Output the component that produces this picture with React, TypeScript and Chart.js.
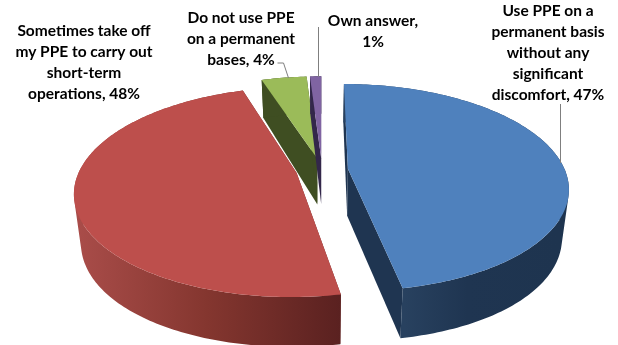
import React, { useEffect, useRef } from "react";
import { Chart, registerables } from "chart.js";

Chart.register(...registerables);

// Survey answers, in drawing order clockwise from twelve o'clock
const answers = [
  "Use PPE on a permanent basis without any significant discomfort",
  "Sometimes take off my PPE to carry out short-term operations",
  "Do not use PPE on a permanent bases",
  "Own answer",
];
const shares = [47, 48, 4, 1];
const faceColors = ["#4f81bd", "#bd4f4c", "#9bbb59", "#8064a2"];
const wallColors = ["#1f3551", "#6f2c2a", "#3f4e22", "#33274a"];

const labelLines = [
  ["Use PPE on a", "permanent basis", "without any", "significant", "discomfort, 47%"],
  ["Sometimes take off", "my PPE to carry out", "short-term", "operations, 48%"],
  ["Do not use PPE", "on a permanent", "bases, 4%"],
  ["Own answer,", "1%"],
];
const labelCenters = [548, 84, 241, 373];
const labelFirstLine = [11, 31, 18, 21];
const leaders = [
  [[560, 104], [560, 163]],
  [],
  [[277, 63], [283, 63], [288, 78]],
  [[318, 27], [318, 77]],
];

// Camera model for the tilted, exploded disc
const CX = 322;
const CY = 170;
const RX = 217;
const RY = 100.5;
const TILT = 0.18;
const EXPLODE = 0.12;
const BASE_SCALE = 0.972;

type Pt = { x: number; y: number };

const project = (u: number, v: number): Pt => {
  const w = 1 - TILT * v;
  return { x: CX + (RX * u) / w, y: CY + (RY * v) / w };
};

// The lower rim sits closer to the viewer, so the wall gets taller toward the front
const dropToBase = (p: Pt): Pt => {
  const d = p.y - CY;
  return {
    x: CX + (p.x - CX) * BASE_SCALE,
    y: p.y + 47 + 0.0677 * d - 0.000359 * d * d,
  };
};

const tracePath = (ctx: CanvasRenderingContext2D, pts: Pt[]) => {
  ctx.beginPath();
  pts.forEach((p, i) => (i ? ctx.lineTo(p.x, p.y) : ctx.moveTo(p.x, p.y)));
  ctx.closePath();
};

// Outer wall as one path of equally wound quads, so the silhouette follows
// the tangent between the upper and lower rim without seams
const traceWall = (ctx: CanvasRenderingContext2D, rim: Pt[], base: Pt[]) => {
  ctx.beginPath();
  for (let i = 0; i < rim.length - 1; i++) {
    let quad = [rim[i], rim[i + 1], base[i + 1], base[i]];
    let area = 0;
    quad.forEach((p, k) => {
      const q = quad[(k + 1) % 4];
      area += p.x * q.y - q.x * p.y;
    });
    if (area < 0) quad = quad.slice().reverse();
    quad.forEach((p, k) => (k ? ctx.lineTo(p.x, p.y) : ctx.moveTo(p.x, p.y)));
    ctx.closePath();
  }
};

const pie3d = {
  id: "pie3d",
  beforeDatasetsDraw(chart: any) {
    const { ctx } = chart;
    const arcs = chart.getDatasetMeta(0).data as any[];

    const slices = arcs.map((arc, i) => {
      // Chart.js angles start at 3 o'clock; the disc model starts at 12
      const a0 = arc.startAngle + Math.PI / 2;
      const a1 = arc.endAngle + Math.PI / 2;
      const mid = (a0 + a1) / 2;
      const ou = Math.sin(mid) * EXPLODE;
      const ov = -Math.cos(mid) * EXPLODE;
      const steps = Math.max(4, Math.ceil(((a1 - a0) * 180) / Math.PI));
      const rim = [];
      for (let s = 0; s <= steps; s++) {
        const a = a0 + ((a1 - a0) * s) / steps;
        rim.push(project(ou + Math.sin(a), ov - Math.cos(a)));
      }
      return { i, apex: project(ou, ov), rim };
    });

    // Back slices first, so the large front slices overlap them
    for (const idx of [2, 3, 1, 0]) {
      const { apex, rim } = slices[idx];
      const rimBase = rim.map(dropToBase);
      const apexBase = dropToBase(apex);
      const first = rim[0];
      const last = rim[rim.length - 1];

      ctx.fillStyle = wallColors[idx];
      tracePath(ctx, [apex, first, dropToBase(first), apexBase]);
      ctx.fill();
      tracePath(ctx, [apex, last, dropToBase(last), apexBase]);
      ctx.fill();

      let wallFill: any = wallColors[idx];
      if (idx === 1) {
        const g = ctx.createLinearGradient(74, 0, 341, 0);
        g.addColorStop(0, "#aa4d4a");
        g.addColorStop(0.5, "#84362f");
        g.addColorStop(1, "#5a2120");
        wallFill = g;
      } else if (idx === 0) {
        const g = ctx.createLinearGradient(405, 0, 560, 0);
        g.addColorStop(0, "#28415f");
        g.addColorStop(0.4, "#1f3551");
        g.addColorStop(1, "#1e344f");
        wallFill = g;
      }
      ctx.fillStyle = wallFill;
      traceWall(ctx, rim, rimBase);
      ctx.fill();

      ctx.fillStyle = arcs[idx].options.backgroundColor;
      tracePath(ctx, [apex, ...rim]);
      ctx.fill();
    }

    // Callout lines and wrapped labels
    ctx.strokeStyle = "#7f7f7f";
    ctx.lineWidth = 1;
    for (const line of leaders) {
      if (!line.length) continue;
      ctx.beginPath();
      line.forEach(([x, y], i) => (i ? ctx.lineTo(x + 0.5, y) : ctx.moveTo(x + 0.5, y)));
      ctx.stroke();
    }
    ctx.fillStyle = "#000000";
    ctx.font = "bold 15.5px Lato";
    ctx.textAlign = "center";
    ctx.textBaseline = "middle";
    labelLines.forEach((lines, i) => {
      lines.forEach((text, k) => ctx.fillText(text, labelCenters[i], labelFirstLine[i] + k * 20.9));
    });
    return false;
  },
};

export default function App() {
  const ref = useRef<HTMLCanvasElement>(null);
  useEffect(() => {
    const chart = new Chart(ref.current!, {
      type: "pie",
      data: {
        labels: answers,
        datasets: [{ data: shares, backgroundColor: faceColors, borderWidth: 0 }],
      },
      options: {
        responsive: false,
        animation: false,
        plugins: { legend: { display: false }, tooltip: { enabled: false } },
      },
      plugins: [pie3d],
    });
    return () => chart.destroy();
  }, []);
  return (
    <div style={{ position: "fixed", left: 0, top: 0, width: 618, height: 345, background: "#fff" }}>
      <canvas ref={ref} width={618} height={345} style={{ display: "block" }} />
    </div>
  );
}
